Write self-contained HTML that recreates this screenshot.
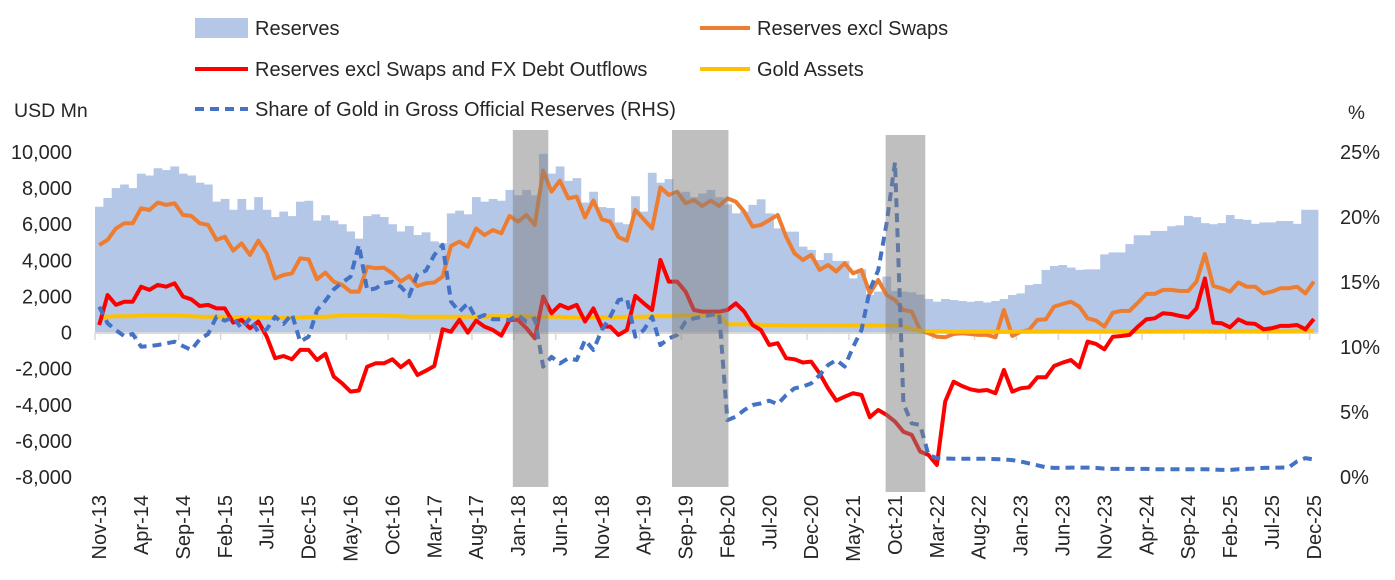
<!DOCTYPE html>
<html><head><meta charset="utf-8"><style>
html,body{margin:0;padding:0;background:#fff;}
svg text{font-family:"Liberation Sans",Arial,sans-serif;fill:#262626;}
</style></head><body>
<svg id="chart" width="1395" height="575" viewBox="0 0 1395 575" xmlns="http://www.w3.org/2000/svg">
<g id="legend">
 <g><rect x="195" y="18" width="53" height="20" fill="#b4c7e7"/><text x="255" y="35" font-size="20">Reserves</text></g>
 <g><line x1="700" y1="28" x2="750" y2="28" stroke="#ed7d31" stroke-width="4"/><text x="757" y="35" font-size="20">Reserves excl Swaps</text></g>
 <g><line x1="195" y1="69" x2="248" y2="69" stroke="#ff0000" stroke-width="4"/><text x="255" y="76" font-size="20">Reserves excl Swaps and FX Debt Outflows</text></g>
 <g><line x1="700" y1="69" x2="750" y2="69" stroke="#ffc000" stroke-width="4"/><text x="757" y="76" font-size="20">Gold Assets</text></g>
 <g><line x1="195" y1="109" x2="248" y2="109" stroke="#4472c4" stroke-width="4" stroke-dasharray="9,6"/><text x="255" y="116" font-size="20">Share of Gold in Gross Official Reserves (RHS)</text></g>
</g>
<text x="14" y="117" font-size="19.5">USD Mn</text>
<text x="1348" y="119" font-size="19">%</text>
<g id="bars"></g>
<line x1="95" y1="333" x2="1318" y2="333" stroke="#d9d9d9" stroke-width="2"/>
<g id="ticks"></g>
<g id="lines"></g>
<g id="shade"></g>
<g id="yleft"></g>
<g id="yright"></g>
<g id="xlab"></g>
</svg>
<script>
const monthNames=["Jan","Feb","Mar","Apr","May","Jun","Jul","Aug","Sep","Oct","Nov","Dec"];
const reservesK=[6.97,7.45,8.0,8.2,8.0,8.8,8.7,9.1,9.0,9.2,8.8,8.7,8.3,8.2,7.25,7.4,6.8,7.4,6.8,7.5,6.8,6.4,6.7,6.45,7.25,7.3,6.2,6.5,6.2,6.0,5.6,5.2,6.45,6.55,6.4,6.0,5.6,5.9,5.4,5.55,5.05,4.95,6.6,6.75,6.55,7.5,7.25,7.4,7.3,7.9,
7.6,7.9,7.6,9.9,8.8,9.2,8.4,8.55,7.2,7.8,6.95,6.9,6.1,6.0,7.55,6.7,8.85,8.3,8.5,7.6,7.8,7.5,7.7,7.9,
7.5,7.1,6.6,6.7,7.07,7.38,6.6,5.77,5.59,5.59,4.76,4.58,4.02,4.4,3.97,3.97,3.0,3.5,2.08,2.27,3.1,2.3,2.27,2.23,2.1,
1.86,1.71,1.86,1.8,1.75,1.7,1.75,1.67,1.75,1.86,2.08,2.17,2.63,2.69,3.47,3.69,3.74,3.6,3.47,3.5,3.5,4.33,4.44,4.44,4.9,5.39,5.39,5.63,5.63,5.89,5.94,6.46,6.39,6.06,6.0,6.06,6.51,6.29,6.24,6.02,6.1,6.1,6.18,6.18,6.02,6.8,6.8];
const exclSwapsK=[4.85,5.13,5.77,6.05,6.05,6.88,6.79,7.2,7.07,7.16,6.51,6.46,6.05,5.96,5.13,5.31,4.54,4.94,4.3,5.09,4.39,3.0,3.19,3.28,4.11,4.06,2.95,3.32,2.82,2.64,2.27,2.27,3.65,3.56,3.6,3.28,2.82,3.13,2.58,2.73,2.77,3.1,4.8,5.04,4.76,5.77,5.4,5.68,5.5,6.46,
6.14,6.51,5.96,8.97,7.8,8.41,7.43,7.53,6.38,7.31,6.27,6.14,5.28,5.09,6.79,6.27,5.77,8.04,7.62,7.8,7.16,7.34,7.01,7.31,7.01,7.43,7.25,6.7,5.87,5.96,6.23,6.51,5.31,4.39,4.02,4.3,3.47,3.74,3.38,3.84,3.28,3.47,2.17,2.91,2.08,1.8,1.25,1.16,0.14,-0.04,
-0.23,-0.26,-0.08,-0.04,-0.08,-0.13,-0.13,-0.26,1.25,-0.19,0.05,0.14,0.7,0.73,1.44,1.58,1.71,1.44,0.79,0.66,0.33,1.1,1.2,1.2,1.66,2.14,2.14,2.36,2.36,2.3,2.3,2.82,4.35,2.58,2.45,2.27,2.77,2.54,2.54,2.17,2.27,2.45,2.45,2.54,2.17,2.82];
const exclDebtK=[0.42,2.08,1.53,1.71,1.71,2.54,2.36,2.64,2.54,2.73,1.99,1.84,1.47,1.53,1.34,1.34,0.55,0.7,0.24,0.61,-0.22,-1.42,-1.3,-1.48,-0.96,-0.96,-1.52,-1.18,-2.44,-2.81,-3.27,-3.21,-1.89,-1.7,-1.7,-1.48,-1.92,-1.57,-2.35,-2.11,-1.85,0.18,0.05,0.7,0.0,0.66,0.33,0.14,-0.17,0.7,
0.7,0.24,-0.32,1.99,1.07,1.53,1.34,1.53,0.61,1.34,0.33,0.33,-0.13,0.14,2.03,1.62,1.25,4.02,2.82,2.82,2.27,1.25,1.16,1.16,1.16,1.25,1.62,1.16,0.42,0.14,-0.69,-0.59,-1.42,-1.48,-1.66,-1.61,-2.26,-3.09,-3.77,-3.55,-3.36,-3.46,-4.69,-4.29,-4.56,-4.93,-5.49,-5.67,-6.59,-6.78,
-7.33,-3.82,-2.72,-2.96,-3.14,-3.23,-3.18,-3.36,-2.07,-3.27,-3.09,-3.03,-2.48,-2.48,-1.85,-1.67,-1.52,-1.92,-0.5,-0.63,-0.93,-0.23,-0.19,-0.13,0.33,0.73,0.79,1.07,1.03,0.92,0.84,1.34,3.0,0.55,0.51,0.29,0.73,0.51,0.48,0.18,0.24,0.37,0.37,0.42,0.18,0.75];
const goldK=[0.85,0.88,0.9,0.9,0.9,0.95,0.95,0.95,0.95,0.95,0.92,0.9,0.88,0.88,0.88,0.88,0.86,0.85,0.85,0.85,0.82,0.8,0.8,0.8,0.85,0.86,0.88,0.88,0.9,0.95,0.96,0.97,0.97,0.96,0.95,0.92,0.9,0.88,0.88,0.88,0.88,0.88,0.88,0.88,0.88,0.88,0.88,0.9,0.9,0.9,
0.9,0.9,0.88,0.88,0.88,0.88,0.85,0.85,0.85,0.85,0.85,0.85,0.85,0.88,0.88,0.88,0.9,0.9,0.9,0.92,0.95,0.97,0.97,0.95,0.95,0.45,0.45,0.45,0.45,0.43,0.42,0.42,0.4,0.4,0.4,0.4,0.4,0.4,0.4,0.4,0.4,0.4,0.4,0.4,0.4,0.38,0.35,0.2,0.1,0.08,
0.08,0.06,0.05,0.05,0.05,0.05,0.05,0.05,0.05,0.05,0.06,0.06,0.06,0.07,0.07,0.07,0.06,0.06,0.06,0.07,0.07,0.07,0.07,0.07,0.07,0.07,0.07,0.07,0.07,0.08,0.08,0.08,0.08,0.08,0.08,0.08,0.08,0.08,0.08,0.08,0.08,0.08,0.08,0.1,0.1,0.1];
const goldSharePct=[13.1,11.82,11.3,10.84,11.0,10.02,10.07,10.15,10.28,10.41,10.07,9.77,10.59,11.0,12.33,12.02,12.28,11.43,12.2,11.15,11.36,12.33,11.77,12.54,10.41,10.79,12.84,13.56,14.43,14.95,15.41,17.85,14.38,14.51,14.9,15.02,14.64,13.92,15.61,15.87,17.08,17.85,13.49,12.72,13.36,12.2,12.46,12.13,12.13,12.07,
12.46,11.95,12.2,8.49,9.25,8.74,9.13,9.0,10.54,9.77,11.3,12.33,13.61,13.74,10.79,11.3,12.33,10.15,10.66,10.92,11.95,12.2,12.33,12.46,12.59,4.38,4.64,5.15,5.54,5.66,5.87,5.61,6.3,6.82,6.95,7.2,7.84,8.61,9.0,8.49,10.0,11.3,14.4,15.9,19.5,24.2,5.66,4.13,4.0,1.69,
1.45,1.43,1.4,1.4,1.4,1.4,1.4,1.38,1.35,1.3,1.2,1.05,0.9,0.75,0.7,0.7,0.72,0.72,0.72,0.7,0.65,0.62,0.62,0.62,0.62,0.62,0.6,0.6,0.6,0.6,0.6,0.6,0.6,0.58,0.55,0.55,0.6,0.62,0.65,0.7,0.72,0.72,0.75,1.2,1.45,1.35];
const leftTicks=[10000,8000,6000,4000,2000,0,-2000,-4000,-6000,-8000];
const rightTicks=[0,5,10,15,20,25];
const shadedStartIdx=[50,69,94.5];
const shadedEndIdx=[54,75.5,99];

const NS="http://www.w3.org/2000/svg";
const N=reservesK.length;
const X0=95,X1=1318,bw=(X1-X0)/N;
const xL=i=>X0+i*bw, xC=i=>X0+(i+0.5)*bw;
const yL=v=>152+(10000-v)*325/18000;
const yR=p=>477-p*13;
function mk(t,a,parent){const e=document.createElementNS(NS,t);for(const k in a)e.setAttribute(k,a[k]);parent.appendChild(e);return e;}
const gB=document.getElementById('bars');
reservesK.forEach((v,i)=>{const y=yL(v*1000);
 const r=mk('rect',{x:xL(i),y:y,width:bw+0.4,height:yL(0)-y,fill:'#b4c7e7'},gB);
 
 });
const gT=document.getElementById('ticks');
for(let i=0;i<=N;i+=5){const t=mk('line',{x1:xL(i),x2:xL(i),y1:333,y2:340,stroke:'#d9d9d9','stroke-width':1.5},gT);
 
 }
const gL=document.getElementById('lines');
function line(arr,f,color,name,dash){const d=arr.map((v,i)=>(i?'L':'M')+xC(i).toFixed(1)+' '+f(v).toFixed(1)).join(' ');
 const p=mk('path',{d:d,fill:'none',stroke:color,'stroke-width':4,'stroke-linejoin':'round'},gL);
 if(dash)p.setAttribute('stroke-dasharray',dash);
 
 }
line(exclSwapsK,v=>yL(v*1000),'#ed7d31','reserves-excl-swaps-line');
line(goldK,v=>yL(v*1000),'#ffc000','gold-assets-line');
line(exclDebtK,v=>yL(v*1000),'#ff0000','reserves-excl-swaps-fx-debt-line');
line(goldSharePct,yR,'#4472c4','gold-share-line','9,6');
const gS=document.getElementById('shade');
shadedStartIdx.forEach((s,k)=>{const r=mk('rect',{x:xL(s)-1,y:k==2?135:130,width:xL(shadedEndIdx[k])-xL(s)+2,height:357,fill:'#7f7f7f','fill-opacity':0.5},gS);
 
 });
const gY=document.getElementById('yleft');
leftTicks.forEach(v=>{const t=mk('text',{x:72,y:yL(v)+7,'font-size':20,'text-anchor':'end'},gY);t.textContent=v.toLocaleString('en-US');
 
 });
const gR=document.getElementById('yright');
rightTicks.forEach(v=>{const t=mk('text',{x:1340,y:yR(v)+7,'font-size':20},gR);t.textContent=v+'%';
 
 });
const gX=document.getElementById('xlab');
for(let i=0;i<N;i+=5){const m=(10+i)%12,yr=13+Math.floor((10+i)/12);
 const x=xC(i)+7;const t=mk('text',{x:x,y:495,'font-size':20,'text-anchor':'end',transform:`rotate(-90 ${x} 495)`},gX);
 t.textContent=monthNames[m]+'-'+yr;
 
 }
</script>
</body></html>
